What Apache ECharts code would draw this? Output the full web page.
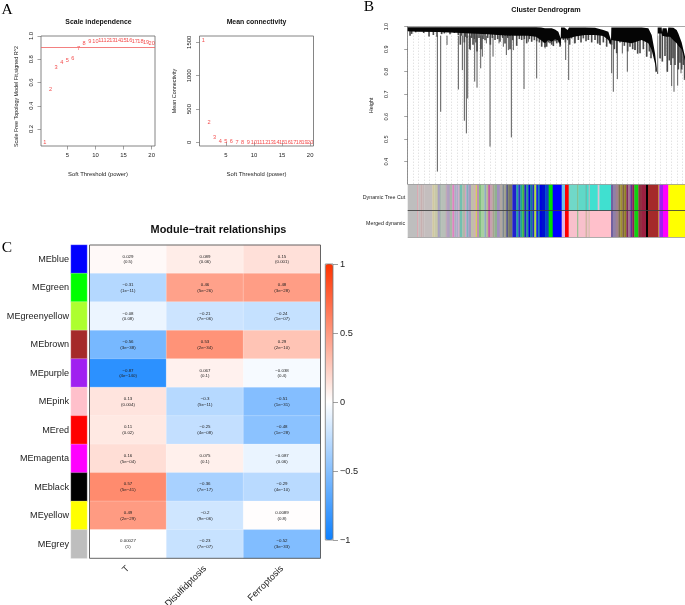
<!DOCTYPE html>
<html>
<head>
<meta charset="utf-8">
<title>WGCNA</title>
<style>
html, body { margin: 0; padding: 0; background: #fff; }
#main { width: 685px; height: 605px; }
</style>
<script src="https://cdn.jsdelivr.net/npm/echarts@6/dist/echarts.min.js"></script>
</head>
<body>
<div id="main"></div>
<script>
// panel A
var softPower = [1,2,3,4,5,6,7,8,9,10,11,12,13,14,15,16,17,18,19,20];
var scaleFitR2 = [0.083,0.54,0.732,0.775,0.792,0.809,0.892,0.94,0.955,0.955,0.963,0.963,0.963,0.963,0.966,0.963,0.952,0.955,0.943,0.94];
var meanConn = [1530,304,80,20,8,6,5,4,3,3,2,2,2,1,1,1,1,1,1,1];

// panel B, x is the position along the leaves (0-832)
var spikeLeaf = [89,99,118,152,164,170,176,180,188,201,208,219,224,236,247,256,274,287,296,302,311,317,349,362,387,412,474,483,500,575,612,617,629,644,659,682,717,750,758,779,792,799,810,820,830];
var spikeLow = [0.356,0.622,0.919,0.721,0.807,0.582,0.526,0.681,0.896,0.756,0.729,0.815,0.867,0.926,0.467,0.867,0.926,0.911,0.874,0.896,0.508,0.896,0.723,0.933,0.77,0.904,0.852,0.763,0.926,0.926,0.793,0.711,0.767,0.881,0.8,0.896,0.867,0.79,0.859,0.8,0.736,0.711,0.738,0.793,0.763];
var edgeLeaf = [0,30,90,160,240,300,360,385,400,412,422,432,442,452,459,460,470,480,484,502,532,562,587,602,610,611,642,672,702,722,732,742,749,750,762,763,765,777,779,782,787,797,807,812,822,832];
var edgeHigh = [0.998,0.998,0.998,0.998,0.998,0.998,0.998,0.998,0.996,0.993,0.993,0.993,0.988,0.978,0.948,0.997,0.997,0.985,0.997,0.997,0.997,0.995,0.985,0.978,0.94,0.997,0.997,0.997,0.997,0.993,0.963,0.882,0.793,0.997,0.997,0.975,0.993,0.993,0.97,0.997,0.997,0.995,0.985,0.97,0.93,0.867];
var edgeLow = [0.98,0.978,0.976,0.972,0.966,0.96,0.96,0.955,0.94,0.926,0.941,0.933,0.944,0.939,0.914,0.948,0.948,0.948,0.948,0.956,0.963,0.963,0.959,0.941,0.919,0.941,0.933,0.926,0.941,0.926,0.896,0.837,0.79,0.97,0.97,0.96,0.955,0.955,0.95,0.955,0.955,0.94,0.926,0.915,0.9,0.85];
var fringeLeaf = [7,12,24,48,64,77,88,102,110,127,140,152,158,162,170,174,178,186,192,196,200,205,208,214,220,226,232,240,248,254,262,270,277,285,292,300,307,315,327,335,342,350,357,365,372,380,387,395,402,407,412,417,422,427,432,437,442,447,452,457,467,473,480,486,492,502,512,520,527,535,542,552,562,570,577,587,597,606,612,620,627,637,650,660,667,675,682,690,697,707,717,725,730,738,745,757,764,772,779,785,790,796,802,812,817,822,827,832];
var fringeLow = [0.96,0.968,0.975,0.972,0.956,0.963,0.955,0.967,0.97,0.967,0.972,0.963,0.92,0.96,0.93,0.955,0.95,0.9,0.95,0.92,0.945,0.93,0.89,0.95,0.9,0.945,0.94,0.95,0.92,0.95,0.941,0.945,0.933,0.95,0.925,0.95,0.9,0.94,0.915,0.945,0.941,0.945,0.926,0.945,0.933,0.94,0.935,0.93,0.911,0.93,0.91,0.911,0.93,0.926,0.92,0.914,0.935,0.926,0.93,0.911,0.941,0.93,0.94,0.92,0.948,0.926,0.941,0.93,0.948,0.935,0.941,0.93,0.941,0.925,0.919,0.93,0.911,0.925,0.92,0.9,0.882,0.93,0.915,0.89,0.911,0.9,0.896,0.88,0.882,0.9,0.867,0.89,0.86,0.88,0.8,0.86,0.845,0.87,0.8,0.85,0.83,0.86,0.83,0.81,0.84,0.81,0.83,0.77];

var leftBands = [[0,'#bebebe'],[28,'#d8a8b0'],[32,'#bebebe'],[38,'#c8b0b0'],[44,'#c4b8b8'],[50,'#c4bebe'],[74,'#d0c8a0'],[80,'#c8c8a8'],[90,'#a8a0c0'],[96,'#a8b8b0'],[100,'#b8c0b8'],[114,'#c0a8b8'],[118,'#b0a0c0'],[126,'#a8b8a8'],[134,'#e080c0'],[140,'#a8b0c0'],[146,'#b0a8c8'],[152,'#d0a8c0'],[156,'#70c0b0'],[164,'#b0b8a8'],[172,'#d8a0c0'],[176,'#80b0c0'],[182,'#a898c0'],[190,'#c0c0a8'],[198,'#d0b0b8'],[204,'#d0d060'],[208,'#c090b0'],[214,'#80c080'],[220,'#a8d0a0'],[230,'#90a8c0'],[236,'#b8b890'],[242,'#c040a0'],[246,'#c8a0b0'],[254,'#a8a090'],[260,'#90b090'],[268,'#a090c0'],[276,'#b0a8a0'],[284,'#808890'],[290,'#a0a088'],[296,'#404090'],[300,'#808870'],[304,'#787868'],[314,'#2020d0'],[326,'#20a0a0'],[332,'#3030d0'],[338,'#20a890'],[344,'#40b040'],[350,'#2020c8'],[356,'#209890'],[362,'#0000e0'],[368,'#108090'],[374,'#2030c0'],[380,'#b0e030'],[386,'#0000ff'],[390,'#2080b0'],[396,'#0000e0'],[402,'#0010d0'],[412,'#0050d0'],[415,'#1040c8'],[423,'#00e000'],[435,'#0000ff']];
var treeCutMid = [[462,'#70c0e0'],[472,'#ff0000'],[483,'#70d8c8'],[509,'#70b070'],[512,'#60d8c8'],[534,'#70b0a0'],[537,'#40e0d0'],[543,'#d0b0b8'],[546,'#40e0d0'],[570,'#e0c0d0'],[575,'#40e0d0']];
var mergedMid = [[462,'#e0b8e0'],[472,'#ff0000'],[483,'#f8c0cc'],[509,'#70b070'],[512,'#f8c0cc'],[534,'#c0b090'],[537,'#f0c0c8'],[543,'#d0c0a8'],[546,'#ffc0cb']];
var rightBands = [[610,'#7060a0'],[616,'#9080a8'],[624,'#a08090'],[632,'#807050'],[638,'#a09030'],[644,'#806040'],[650,'#908020'],[656,'#802860'],[662,'#a07090'],[668,'#603090'],[674,'#902050'],[680,'#10d010'],[692,'#903040'],[702,'#9a2040'],[715,'#000000'],[721,'#a52a2a'],[752,'#c09030'],[755,'#a020f0'],[766,'#ff00ff'],[782,'#ffff00']];
var bandRowNames = ['Merged dynamic', 'Dynamic Tree Cut'];

// panel C
var modules = ['MEblue','MEgreen','MEgreenyellow','MEbrown','MEpurple','MEpink','MEred','MEmagenta','MEblack','MEyellow','MEgrey'];
var moduleColors = ['#0000ff','#00ff00','#adff2f','#a52a2a','#a020f0','#ffc0cb','#ff0000','#ff00ff','#000000','#ffff00','#bebebe'];
var traits = ['T','Disulfidptosis','Ferroptosis'];
var corrT = [0.029,-0.31,-0.08,-0.56,-0.87,0.13,0.11,0.16,0.57,0.49,0.00027];
var corrDisulf = [0.089,0.46,-0.21,0.53,0.067,-0.3,-0.25,0.075,-0.36,-0.2,-0.23];
var corrFerro = [0.15,0.48,-0.24,0.29,-0.038,-0.51,-0.48,-0.087,-0.29,0.0089,-0.52];
var pT = ['0.5','1e-11','0.08','3e-38','4e-140','0.004','0.02','5e-04','5e-41','2e-29','1'];
var pDisulf = ['0.06','5e-26','7e-06','2e-34','0.1','5e-11','4e-08','0.1','7e-17','9e-06','7e-07'];
var pFerro = ['0.001','3e-28','1e-07','2e-10','0.4','1e-31','1e-28','0.06','4e-10','0.8','3e-33'];

var FONT = '"Liberation Sans", Arial, sans-serif';
var INK = '#222';
var BOX = '#666';

function minus(v) {
    return String(v).replace(/-/g, '\u2212');
}

function plotX(gridIndex, name) {
    return {
        type: 'value', gridIndex: gridIndex, min: 0.32, max: 20.6, name: name,
        nameLocation: 'middle', nameGap: 25,
        nameTextStyle: { fontFamily: FONT, fontSize: 5.9, color: INK },
        splitLine: { show: false },
        axisLine: { show: false },
        axisTick: { show: true, length: 3.5, lineStyle: { color: BOX, width: 0.6 }, customValues: [5,10,15,20] },
        axisLabel: { fontFamily: FONT, fontSize: 5.9, color: INK, margin: 6, customValues: [5,10,15,20] }
    };
}

function plotY(gridIndex, name, min, max, ticks, fmt, namePad) {
    return {
        type: 'value', gridIndex: gridIndex, min: min, max: max, name: name,
        nameLocation: 'middle', nameGap: 22,
        nameTextStyle: { fontFamily: FONT, fontSize: 5.4, color: INK, padding: namePad },
        splitLine: { show: false },
        axisLine: { show: false },
        axisTick: { show: true, length: 3.5, lineStyle: { color: BOX, width: 0.6 }, customValues: ticks },
        axisLabel: { fontFamily: FONT, fontSize: 5.9, color: INK, rotate: 90, margin: 7, customValues: ticks, hideOverlap: false, formatter: fmt }
    };
}

function powerSeries(gridIndex, values) {
    return {
        type: 'scatter', xAxisIndex: gridIndex, yAxisIndex: gridIndex, symbolSize: 1,
        itemStyle: { color: 'transparent' },
        data: softPower.map(function (p, i) { return [p, values[i]]; }),
        label: {
            show: true, position: 'inside', fontFamily: FONT, fontSize: 5.6, color: '#f01c1c',
            formatter: function (params) { return String(params.data[0]); }
        }
    };
}

function spikeSeries(xs, lows, top, width, color) {
    return {
        type: 'custom', xAxisIndex: 2, yAxisIndex: 2,
        data: xs.map(function (x, i) { return [x, lows[i]]; }),
        renderItem: function (params, api) {
            var a = api.coord([api.value(0), top]);
            var b = api.coord([api.value(0), api.value(1)]);
            return { type: 'line', shape: { x1: a[0], y1: a[1], x2: b[0], y2: b[1] },
                     style: { stroke: color, lineWidth: width } };
        }
    };
}

function rowBands(mid, row) {
    var list = leftBands.concat(mid, rightBands);
    return list.map(function (b, i) {
        var end = i + 1 < list.length ? list[i + 1][0] : 832;
        return [b[0], end, row, b[1]];
    });
}

var bandList = rowBands(mergedMid, 0).concat(rowBands(treeCutMid, 1));

function heatData() {
    var out = [];
    var cols = [corrT, corrDisulf, corrFerro];
    var ps = [pT, pDisulf, pFerro];
    cols.forEach(function (c, x) {
        c.forEach(function (v, y) {
            out.push({ value: [x, y, v], text: minus(v) + '\n(' + minus(ps[x][y]) + ')' });
        });
    });
    return out;
}

function titleText(text, x, y, size, weight, family, color) {
    return {
        text: text, left: x, top: y, textAlign: 'center', padding: 0,
        textStyle: { fontFamily: family || FONT, fontSize: size, fontWeight: weight || 'normal', color: color || '#111' }
    };
}

var chart = echarts.init(document.getElementById('main'));
var option = {
    animation: false,
    backgroundColor: '#fff',
    title: [
        titleText('A', 7, 2, 15.5, 'normal', '"Liberation Serif", serif', '#000'),
        titleText('B', 369, -1, 15.5, 'normal', '"Liberation Serif", serif', '#000'),
        titleText('C', 7, 240, 15.5, 'normal', '"Liberation Serif", serif', '#000'),
        titleText('Scale independence', 98.5, 18.5, 6.9, 'bold'),
        titleText('Mean connectivity', 256.5, 18.5, 6.9, 'bold'),
        titleText('Cluster Dendrogram', 546, 6.5, 7.2, 'bold'),
        titleText('Module\u2212trait relationships', 218.5, 224, 10.9, 'bold')
    ],
    grid: [
        { left: 41, top: 36, width: 114, height: 110, show: true, borderColor: BOX, borderWidth: 0.8, outerBoundsMode: 'none' },
        { left: 199.5, top: 36, width: 114, height: 110, show: true, borderColor: BOX, borderWidth: 0.8, outerBoundsMode: 'none' },
        { left: 407.7, top: 26.7, width: 277.3, height: 157.5, outerBoundsMode: 'none' },
        { left: 407.7, top: 184.2, width: 277.3, height: 53, outerBoundsMode: 'none' },
        { left: 71, top: 245, width: 16, height: 313.3, outerBoundsMode: 'none' },
        { left: 89.5, top: 245, width: 231, height: 313.3, outerBoundsMode: 'none' },
        { left: 325.3, top: 264, width: 7.7, height: 276, outerBoundsMode: 'none' }
    ],
    xAxis: [
        plotX(0, 'Soft Threshold (power)'),
        plotX(1, 'Soft Threshold (power)'),
        { type: 'value', gridIndex: 2, min: 0, max: 832, position: 'top', interval: 16.5,
          axisLine: { show: true, lineStyle: { color: '#999', width: 0.8 } },
          axisTick: { show: false }, axisLabel: { show: false },
          splitLine: { show: true, lineStyle: { color: '#c4c4c4', type: [1, 2], width: 0.7 } } },
        { type: 'value', gridIndex: 3, min: 0, max: 832, show: false },
        { type: 'category', gridIndex: 4, data: ['module'], show: false },
        { type: 'category', gridIndex: 5, data: traits,
          axisLine: { show: false }, axisTick: { show: false }, splitLine: { show: false },
          axisLabel: { fontFamily: FONT, fontSize: 9.2, color: INK, rotate: 45, margin: 9, interval: 0, hideOverlap: false } },
        { type: 'category', gridIndex: 6, data: ['scale'], show: false }
    ],
    yAxis: [
        plotY(0, 'Scale Free Topology Model Fit,signed R^2', 0.054, 1.0, [0.2,0.4,0.6,0.8,1.0],
              function (v) { return v.toFixed(1); }, [0, 11, 0, 0]),
        plotY(1, 'Mean Connectivity', -55, 1595, [0,500,1000,1500],
              function (v) { return String(v); }, [0, 0, 0, 0]),
        { type: 'value', gridIndex: 2, min: 0.3, max: 1, offset: 11, name: 'Height',
          nameLocation: 'middle', nameGap: 23,
          nameTextStyle: { fontFamily: FONT, fontSize: 5.4, color: INK },
          splitLine: { show: false },
          axisLine: { show: true, lineStyle: { color: BOX, width: 0.7 } },
          axisTick: { show: true, length: 3.5, lineStyle: { color: BOX, width: 0.6 }, customValues: [0.4,0.5,0.6,0.7,0.8,0.9,1.0] },
          axisLabel: { fontFamily: FONT, fontSize: 5.6, color: INK, rotate: 90, margin: 7, hideOverlap: false,
                       customValues: [0.4,0.5,0.6,0.7,0.8,0.9,1.0], formatter: function (v) { return v.toFixed(1); } } },
        { type: 'value', gridIndex: 3, min: 0, max: 2,
          axisLine: { show: false }, axisTick: { show: false }, splitLine: { show: false },
          axisLabel: { fontFamily: FONT, fontSize: 5.3, color: INK, margin: 2.5, customValues: [0.5, 1.5],
                       formatter: function (v) { return bandRowNames[v - 0.5]; } } },
        { type: 'category', gridIndex: 4, data: modules, inverse: true,
          axisLine: { show: false }, axisTick: { show: false }, splitLine: { show: false },
          axisLabel: { fontFamily: FONT, fontSize: 9.1, color: INK, margin: 2, interval: 0, hideOverlap: false } },
        { type: 'category', gridIndex: 5, data: modules, inverse: true, show: false },
        { type: 'value', gridIndex: 6, min: -1, max: 1, position: 'right',
          axisLine: { show: false }, splitLine: { show: false },
          axisTick: { show: true, length: 5, lineStyle: { color: '#888', width: 0.8 }, customValues: [-1,-0.5,0,0.5,1] },
          axisLabel: { fontFamily: FONT, fontSize: 9.2, color: INK, margin: 7, hideOverlap: false, customValues: [-1,-0.5,0,0.5,1],
                       formatter: function (v) { return minus(v); } } }
    ],
    visualMap: [{
        type: 'continuous', seriesIndex: 8, min: -1, max: 1, calculable: false, realtime: false,
        left: 325.3, top: 264, itemWidth: 7.7, itemHeight: 276, padding: 0, text: null, showLabel: false,
        inRange: { color: ['#0d80ff', '#ffffff', '#ff3300'] }
    }],
    series: [
        Object.assign(powerSeries(0, scaleFitR2), {
            markLine: {
                silent: true, symbol: 'none', label: { show: false },
                lineStyle: { color: '#f06060', width: 0.8, type: 'solid' },
                data: [{ yAxis: 0.9 }]
            }
        }),
        powerSeries(1, meanConn),
        // short branches under the black mass
        spikeSeries(fringeLeaf, fringeLow, 0.985, 1.6, '#4a4a4a'),
        // single long branches
        spikeSeries(spikeLeaf, spikeLow, 0.96, 0.9, '#484848'),
        { type: 'line', xAxisIndex: 2, yAxisIndex: 2, symbol: 'none',
          data: edgeLeaf.map(function (x, i) { return [x, edgeLow[i]]; }),
          lineStyle: { width: 0 }, areaStyle: { origin: 'end', color: '#050505', opacity: 1 } },
        { type: 'line', xAxisIndex: 2, yAxisIndex: 2, symbol: 'none',
          data: edgeLeaf.map(function (x, i) { return [x, edgeHigh[i]]; }),
          lineStyle: { width: 0 }, areaStyle: { origin: 'end', color: '#fff', opacity: 1 } },
        // module colour rows
        { type: 'custom', xAxisIndex: 3, yAxisIndex: 3, data: bandList.map(function (b) { return b.slice(0, 3); }),
          renderItem: function (params, api) {
              var p0 = api.coord([api.value(0), api.value(2) + 1]);
              var p1 = api.coord([api.value(1), api.value(2)]);
              return { type: 'rect', shape: { x: p0[0], y: p0[1], width: p1[0] - p0[0] + 0.3, height: p1[1] - p0[1] },
                       style: { fill: bandList[params.dataIndex][3] } };
          },
          markLine: {
              silent: true, symbol: 'none', label: { show: false },
              lineStyle: { color: '#333', width: 0.8, type: 'solid' },
              data: [{ yAxis: 1 }, { yAxis: 0, lineStyle: { color: '#999' } }, { yAxis: 2, lineStyle: { color: '#999' } }]
          } },
        // module strip
        { type: 'heatmap', xAxisIndex: 4, yAxisIndex: 4,
          data: modules.map(function (m, i) {
              return { value: [0, i, 1], itemStyle: { color: moduleColors[i], borderColor: 'rgba(255,255,255,0.5)', borderWidth: 0.5 } };
          }) },
        // correlations
        { type: 'heatmap', xAxisIndex: 5, yAxisIndex: 5, data: heatData(),
          itemStyle: { borderColor: 'rgba(255,255,255,0.45)', borderWidth: 0.5 },
          label: { show: true, fontFamily: FONT, fontSize: 4.4, lineHeight: 5.7, color: '#222',
                   formatter: function (params) { return params.data.text; } } }
    ],
    graphic: [
        { type: 'rect', silent: true, z: 50, shape: { x: 89.5, y: 245, width: 231, height: 313.3 },
          style: { fill: 'none', stroke: '#555', lineWidth: 0.9 } },
        { type: 'rect', silent: true, z: 50, shape: { x: 325.3, y: 264, width: 7.7, height: 276 },
          style: { fill: 'none', stroke: '#777', lineWidth: 0.8 } }
    ]
};

chart.setOption(option);
</script>
</body>
</html>
